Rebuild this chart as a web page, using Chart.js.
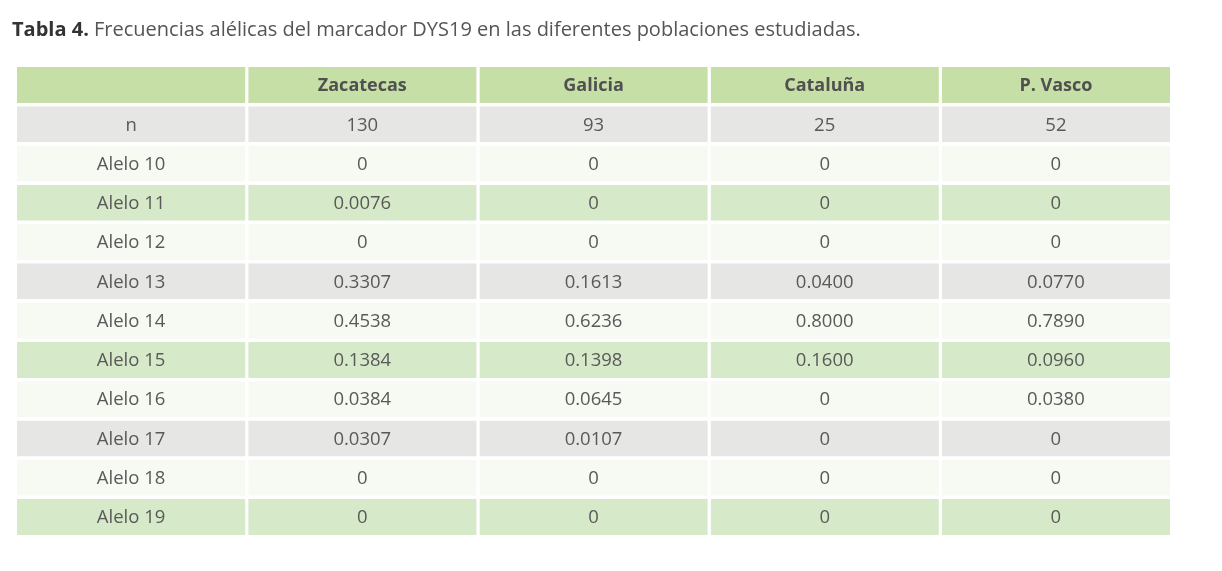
<!DOCTYPE html>
<html>
<head>
<meta charset="utf-8">
<script src="https://cdn.jsdelivr.net/npm/chart.js@4.4.1/dist/chart.umd.min.js"></script>
<style>
  html, body { margin: 0; padding: 0; background: #ffffff; }
  canvas { display: block; }
</style>
</head>
<body>
<canvas id="c" width="1222" height="571"></canvas>
<script>
// ---- Data ----
const titleBold = 'Tabla 4.';
const titleText = 'Frecuencias alélicas del marcador DYS19 en las diferentes poblaciones estudiadas.';
const columns = ['', 'Zacatecas', 'Galicia', 'Cataluña', 'P. Vasco'];
const rowLabels = ['n', 'Alelo 10', 'Alelo 11', 'Alelo 12', 'Alelo 13', 'Alelo 14', 'Alelo 15', 'Alelo 16', 'Alelo 17', 'Alelo 18', 'Alelo 19'];
const nValues = [130, 93, 25, 52];
const zacatecas = [0, 0.0076, 0, 0.3307, 0.4538, 0.1384, 0.0384, 0.0307, 0, 0];
const galicia   = [0, 0, 0, 0.1613, 0.6236, 0.1398, 0.0645, 0.0107, 0, 0];
const cataluna  = [0, 0, 0, 0.0400, 0.8000, 0.1600, 0, 0, 0, 0];
const pvasco    = [0, 0, 0, 0.0770, 0.7890, 0.0960, 0.0380, 0, 0, 0];

// ---- Styles ----
const HEADER = '#c5dfa6', GRAY = '#e6e6e5', LIGHT = '#f6faf3', GREEN = '#d6eaca';
const rowColors = [HEADER, GRAY, LIGHT, GREEN, LIGHT, GRAY, LIGHT, GREEN, LIGHT, GRAY, LIGHT, GREEN];
const FONT = "'Open Sans', 'Noto Sans', sans-serif";

const series = [zacatecas, galicia, cataluna, pvasco];
const fmt = v => v === 0 ? '0' : v.toFixed(4);
const yLabels = ['__header__'].concat(rowLabels);

function cellText(r, c) {
  if (r === 0) return columns[c];
  if (c === 0) return rowLabels[r - 1];
  if (r === 1) return String(nValues[c - 1]);
  return fmt(series[c - 1][r - 2]);
}

const datasets = columns.map((col, c) => ({
  label: col || 'rows',
  data: yLabels.map(() => [c, c + 1]),
  backgroundColor: rowColors,
  borderColor: '#ffffff',
  borderWidth: { left: 0, right: 3, top: 0, bottom: 0 },
  borderSkipped: false,
  grouped: false,
  barPercentage: 0.917,
  categoryPercentage: 1
}));

const textPlugin = {
  id: 'tableText',
  afterDatasetsDraw(chart) {
    const ctx = chart.ctx;
    const xs = chart.scales.x, ys = chart.scales.y;
    ctx.save();
    // title
    ctx.textBaseline = 'alphabetic';
    ctx.textAlign = 'left';
    ctx.font = "bold 20px " + FONT;
    ctx.fillStyle = '#333333';
    ctx.fillText(titleBold, 12, 36);
    const w = ctx.measureText(titleBold + ' ').width;
    ctx.font = "20px " + FONT;
    ctx.fillStyle = '#555555';
    ctx.fillText(titleText, 12 + w, 36);
    // cells
    ctx.textAlign = 'center';
    ctx.textBaseline = 'middle';
    for (let r = 0; r < yLabels.length; r++) {
      const y = ys.getPixelForValue(r);
      for (let c = 0; c < columns.length; c++) {
        const t = cellText(r, c);
        if (!t) continue;
        const x = (xs.getPixelForValue(c) + xs.getPixelForValue(c + 1)) / 2 - 1.5;
        if (r === 0) {
          ctx.font = "bold 18px " + FONT;
          ctx.fillStyle = '#505050';
        } else {
          ctx.font = "18.5px " + FONT;
          ctx.fillStyle = '#595959';
        }
        ctx.fillText(t, x, y + 1);
      }
    }
    ctx.restore();
  }
};

new Chart(document.getElementById('c'), {
  type: 'bar',
  data: { labels: yLabels, datasets },
  options: {
    indexAxis: 'y',
    responsive: false,
    animation: false,
    devicePixelRatio: 1,
    layout: { padding: { left: 17, right: 49, top: 65.4, bottom: 34.4 } },
    scales: {
      x: { type: 'linear', min: 0, max: 5, display: false },
      y: { type: 'category', display: false, offset: true }
    },
    plugins: { legend: { display: false }, tooltip: { enabled: false }, title: { display: false } }
  },
  plugins: [textPlugin]
});
</script>
</body>
</html>
